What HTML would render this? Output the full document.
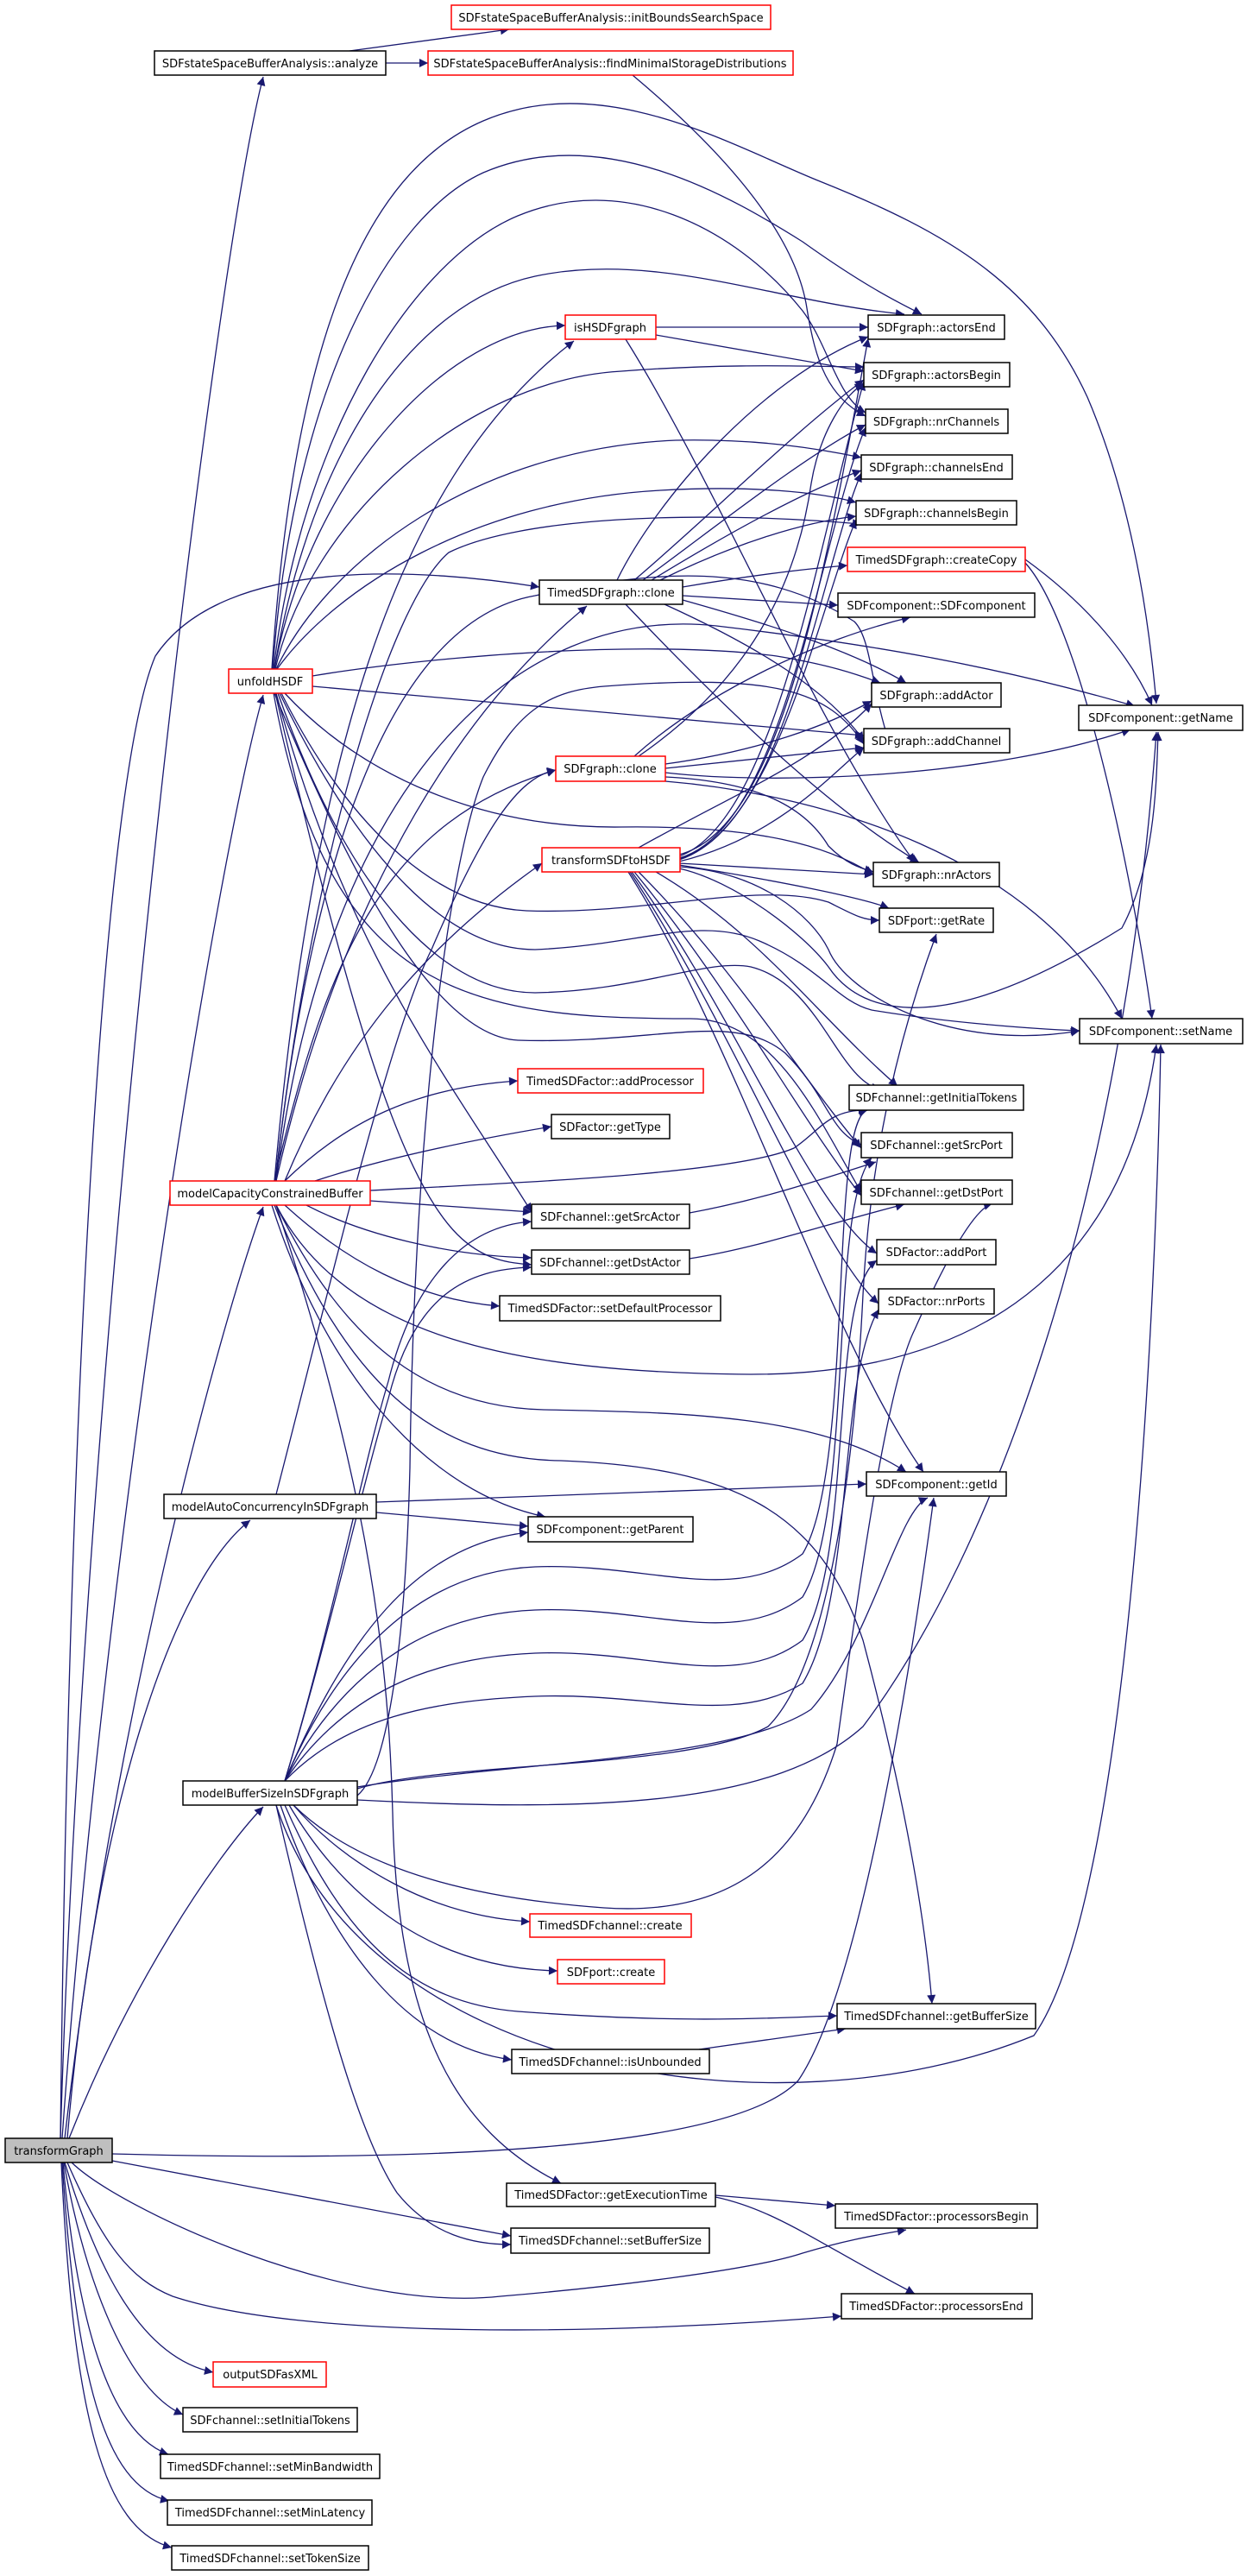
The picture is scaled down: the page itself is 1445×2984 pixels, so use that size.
<!DOCTYPE html>
<html><head><meta charset="utf-8"><style>
html,body{margin:0;padding:0;background:#fff;}
svg{display:block;}
text{font-family:"DejaVu Sans","Liberation Sans",sans-serif;font-size:13px;fill:#000;}
.e{fill:none;stroke:#191970;stroke-width:1.3;marker-end:url(#a);}
.n{fill:#fff;stroke:#000;stroke-width:1.5;}
.r{fill:#fff;stroke:#ff0000;stroke-width:1.5;}
</style></head><body>
<svg width="1445" height="2984" viewBox="0 0 1445 2984" xmlns="http://www.w3.org/2000/svg">
<defs><marker id="a" viewBox="0 0 10 10" refX="10" refY="5" markerWidth="13" markerHeight="10" markerUnits="userSpaceOnUse" orient="auto"><path d="M0,0 L10,5 L0,10 z" fill="#191970"/></marker></defs>
<g>
<!-- analyze -->
<path class="e" d="M405,59 L590,34"/>
<path class="e" d="M447,73 L496,73"/>
<path class="e" d="M733,87 C820,160 920,260 935,357 C945,420 960,460 1003,482"/>
<!-- transformGraph -->
<path class="e" d="M70,2477 C100,1500 250,300 305,89"/>
<path class="e" d="M72,2477 C120,1800 250,1000 305,805"/>
<path class="e" d="M70,2477 C80,1600 120,900 180,760 C260,640 500,660 625,680"/>
<path class="e" d="M75,2477 C130,2000 250,1550 305,1398"/>
<path class="e" d="M78,2477 C110,2100 200,1830 290,1761"/>
<path class="e" d="M80,2477 C150,2300 250,2150 305,2093"/>
<path class="e" d="M130,2495 C500,2505 850,2490 925,2410 C1000,2300 1060,1900 1082,1735"/>
<path class="e" d="M130,2503 L592,2590"/>
<path class="e" d="M83,2505 C140,2560 400,2680 580,2660 C700,2650 870,2630 930,2610 C980,2595 1010,2590 1050,2583"/>
<path class="e" d="M78,2505 C120,2600 150,2640 200,2660 C350,2710 700,2705 975,2683"/>
<path class="e" d="M75,2505 C110,2620 160,2730 247,2748"/>
<path class="e" d="M74,2505 C100,2650 150,2770 212,2797"/>
<path class="e" d="M73,2505 C90,2700 130,2820 195,2843"/>
<path class="e" d="M72,2505 C88,2750 120,2880 196,2897"/>
<path class="e" d="M71,2505 C85,2800 120,2930 199,2951"/>
<!-- unfoldHSDF -->
<path class="e" d="M315,775 C340,400 420,200 560,140 C700,80 850,170 950,210 C1100,270 1200,330 1260,460 C1320,600 1335,760 1340,815"/>
<path class="e" d="M316,775 C340,450 450,250 560,200 C700,140 850,230 930,280 C1000,330 1040,350 1068,364"/>
<path class="e" d="M317,775 C350,500 480,300 600,250 C720,200 850,260 930,360 C960,400 970,460 1003,478"/>
<path class="e" d="M318,775 C360,520 480,350 620,320 C760,290 900,350 1048,364"/>
<path class="e" d="M318,775 C360,550 520,380 655,377"/>
<path class="e" d="M319,775 C360,600 540,440 720,430 C850,420 950,425 1001,425"/>
<path class="e" d="M320,775 C380,650 550,520 783,510 C880,508 950,520 998,530"/>
<path class="e" d="M321,775 C390,680 550,580 765,568 C870,562 950,570 992,582"/>
<path class="e" d="M362,783 C500,760 750,740 900,760 C960,770 990,780 1020,791"/>
<path class="e" d="M362,795 L1001,852"/>
<path class="e" d="M330,803 C420,900 560,960 720,958 C880,956 960,980 1012,1013"/>
<path class="e" d="M326,803 C400,950 500,1050 610,1055 C750,1060 880,1020 960,1045 C990,1060 1000,1066 1019,1066"/>
<path class="e" d="M324,803 C420,1000 520,1100 620,1100 C740,1095 810,1060 880,1090 C950,1120 970,1160 1010,1170 C1100,1185 1200,1192 1251,1194"/>
<path class="e" d="M322,803 C410,1050 520,1150 620,1150 C740,1148 820,1110 870,1120 C950,1140 970,1250 1020,1262"/>
<path class="e" d="M320,803 C400,1100 520,1250 616,1404"/>
<path class="e" d="M319,803 C400,1150 460,1360 530,1430 C560,1460 590,1463 616,1465"/>
<path class="e" d="M318,803 C400,1000 500,1200 600,1205 C760,1210 850,1170 910,1220 C960,1270 960,1310 998,1326"/>
<path class="e" d="M317,803 C380,1150 540,1180 800,1180 C900,1180 950,1300 998,1381"/>
<!-- isHSDF -->
<path class="e" d="M760,379 L1006,379"/>
<path class="e" d="M760,388 L1001,430"/>
<path class="e" d="M725,393 C830,560 950,850 1060,999"/>
<!-- TimedSDFgraph::clone -->
<path class="e" d="M715,672 C760,580 880,440 1006,390"/>
<path class="e" d="M735,672 C820,600 920,500 1001,440"/>
<path class="e" d="M745,672 C830,610 930,530 1003,492"/>
<path class="e" d="M755,672 C840,620 930,570 998,545"/>
<path class="e" d="M765,672 C850,630 930,605 992,598"/>
<path class="e" d="M791,680 C850,670 920,660 982,655"/>
<path class="e" d="M791,690 L971,701"/>
<path class="e" d="M791,695 C880,720 980,750 1050,791"/>
<path class="e" d="M770,700 C880,750 960,800 1001,858"/>
<path class="e" d="M725,700 C820,800 950,930 1065,999"/>
<!-- SDFgraph::clone -->
<path class="e" d="M735,876 C820,800 950,740 1055,715"/>
<path class="e" d="M740,876 C850,800 920,700 940,560 C950,500 980,455 1001,445"/>
<path class="e" d="M771,885 C880,870 960,840 1010,812"/>
<path class="e" d="M771,890 L1001,866"/>
<path class="e" d="M771,895 C900,910 1150,900 1310,845"/>
<path class="e" d="M771,900 C870,905 930,930 960,980 C980,1000 995,1005 1012,1010"/>
<path class="e" d="M771,905 C950,920 1200,990 1300,1180"/>
<!-- transformSDFtoHSDF -->
<path class="e" d="M787,990 C900,960 950,700 1006,392"/>
<path class="e" d="M787,992 C900,950 950,620 1001,442"/>
<path class="e" d="M787,994 C910,960 950,620 1003,495"/>
<path class="e" d="M787,995 C910,960 950,660 998,548"/>
<path class="e" d="M787,996 C900,960 950,700 992,602"/>
<path class="e" d="M740,982 C850,920 950,880 1010,815"/>
<path class="e" d="M787,998 C900,970 960,900 1001,866"/>
<path class="e" d="M787,1000 L1012,1013"/>
<path class="e" d="M787,1002 C900,1020 1000,1040 1030,1052"/>
<path class="e" d="M787,1004 C880,1010 940,1060 960,1100 C980,1150 1100,1220 1251,1194"/>
<path class="e" d="M787,1006 C850,1020 930,1080 960,1120 C1000,1180 1100,1200 1300,1075 C1340,1000 1340,900 1342,848"/>
<path class="e" d="M760,1010 C880,1080 950,1180 1040,1258"/>
<path class="e" d="M740,1010 C850,1120 930,1250 998,1330"/>
<path class="e" d="M735,1010 C850,1150 930,1300 998,1385"/>
<path class="e" d="M732,1010 C850,1170 940,1400 1016,1452"/>
<path class="e" d="M730,1010 C850,1190 950,1450 1018,1510"/>
<path class="e" d="M728,1010 C850,1200 960,1550 1070,1705"/>
<!-- modelCapacityConstrainedBuffer -->
<path class="e" d="M330,1368 C400,1300 480,1260 600,1252"/>
<path class="e" d="M365,1368 C450,1340 550,1320 639,1305"/>
<path class="e" d="M429,1379 C600,1370 850,1360 920,1330 C950,1310 960,1285 1005,1286"/>
<path class="e" d="M429,1391 L616,1404"/>
<path class="e" d="M355,1396 C420,1430 520,1455 616,1457"/>
<path class="e" d="M330,1396 C400,1460 480,1505 579,1513"/>
<path class="e" d="M320,1396 C400,1550 600,1590 870,1592 C1100,1592 1300,1500 1340,1210"/>
<path class="e" d="M320,1396 C400,1560 500,1630 630,1633 C800,1636 950,1640 1050,1705"/>
<path class="e" d="M318,1396 C400,1600 500,1690 650,1692 C850,1700 950,1750 1000,1900 C1040,2050 1070,2200 1080,2321"/>
<path class="e" d="M315,1396 C380,1600 500,1730 632,1757"/>
<path class="e" d="M320,1396 C420,1700 450,1900 455,2100 C460,2350 530,2470 650,2529"/>
<path class="e" d="M330,1368 C400,1200 500,1090 628,1000"/>
<path class="e" d="M320,1368 C380,1100 500,850 680,702"/>
<path class="e" d="M318,1368 C380,1100 450,950 644,892"/>
<path class="e" d="M318,1368 C360,900 450,560 665,395"/>
<path class="e" d="M320,1368 C380,900 600,700 830,725 C1000,745 1150,770 1315,818"/>
<path class="e" d="M319,1368 C360,1000 450,720 620,690 C760,660 880,650 990,720 C1010,740 1010,800 1030,858"/>
<path class="e" d="M319,1368 C360,1000 450,700 520,640 C600,600 800,590 998,607"/>
<!-- modelAutoConcurrency -->
<path class="e" d="M320,1731 C380,1500 450,1200 500,1100 C560,960 600,900 644,892"/>
<path class="e" d="M436,1740 L1004,1719"/>
<path class="e" d="M436,1752 L612,1768"/>
<!-- modelBufferSizeInSDFgraph -->
<path class="e" d="M340,2091 C400,2160 500,2220 614,2226"/>
<path class="e" d="M335,2091 C400,2200 500,2280 646,2283"/>
<path class="e" d="M330,2091 C400,2250 480,2320 600,2330 C800,2345 900,2337 970,2335"/>
<path class="e" d="M325,2091 C380,2250 470,2370 593,2386"/>
<path class="e" d="M320,2091 C380,2350 420,2480 460,2540 C500,2590 550,2600 592,2600"/>
<path class="e" d="M320,2091 C420,2400 900,2480 1198,2358 C1310,2200 1340,1500 1345,1210"/>
<path class="e" d="M340,2091 C420,2170 560,2200 700,2210 C850,2220 930,2150 970,2020 C1000,1800 1030,1600 1060,1540 C1100,1450 1130,1400 1150,1394"/>
<path class="e" d="M330,2063 C400,1900 500,1820 620,1815 C750,1810 850,1860 930,1800 C990,1700 960,1300 1005,1286"/>
<path class="e" d="M330,2063 C400,1930 500,1870 620,1865 C750,1860 850,1910 930,1850 C990,1750 960,1400 1010,1341"/>
<path class="e" d="M330,2063 C400,1960 500,1920 620,1915 C750,1910 850,1960 930,1900 C990,1800 960,1500 1016,1460"/>
<path class="e" d="M330,2063 C400,1990 500,1970 620,1965 C750,1960 850,2000 930,1950 C990,1850 970,1600 1018,1517"/>
<path class="e" d="M330,2063 C400,1900 480,1790 612,1775"/>
<path class="e" d="M330,2063 C380,1900 420,1700 450,1600 C480,1480 540,1420 616,1415"/>
<path class="e" d="M330,2063 C380,1900 420,1720 450,1620 C480,1500 540,1470 616,1468"/>
<path class="e" d="M414,2070 C600,2040 850,2040 940,1980 C1010,1900 1040,1750 1075,1735"/>
<path class="e" d="M414,2072 C520,2040 800,2050 890,2000 C960,1930 990,1700 1000,1500 C1010,1300 1060,1150 1085,1082"/>
<path class="e" d="M414,2085 C700,2100 900,2090 1000,2000 C1150,1800 1300,1400 1340,848"/>
<path class="e" d="M414,2080 C450,2050 470,1900 475,1700 C480,1300 520,1000 560,900 C600,820 640,800 700,795 C900,780 960,800 1001,862"/>
<!-- small edges -->
<path class="e" d="M1188,648 C1260,700 1310,760 1335,817"/>
<path class="e" d="M1188,652 C1250,720 1310,1000 1335,1180"/>
<path class="e" d="M799,1405 C880,1390 940,1370 1015,1346"/>
<path class="e" d="M799,1458 C880,1445 950,1420 1048,1395"/>
<path class="e" d="M810,2374 L980,2350"/>
<path class="e" d="M829,2543 L968,2555"/>
<path class="e" d="M829,2545 C900,2560 950,2600 1060,2657"/>
</g>
<g>
<rect class="r" x="523" y="6" width="370" height="28"/><text x="708" y="25" text-anchor="middle">SDFstateSpaceBufferAnalysis::initBoundsSearchSpace</text>
<rect class="n" x="179" y="59" width="268" height="28"/><text x="313" y="78" text-anchor="middle">SDFstateSpaceBufferAnalysis::analyze</text>
<rect class="r" x="496" y="59" width="423" height="28"/><text x="707" y="78" text-anchor="middle">SDFstateSpaceBufferAnalysis::findMinimalStorageDistributions</text>
<rect class="r" x="655" y="365" width="105" height="28"/><text x="707" y="384" text-anchor="middle">isHSDFgraph</text>
<rect class="n" x="1006" y="365" width="158" height="28"/><text x="1085" y="384" text-anchor="middle">SDFgraph::actorsEnd</text>
<rect class="n" x="1001" y="420" width="169" height="28"/><text x="1085" y="439" text-anchor="middle">SDFgraph::actorsBegin</text>
<rect class="n" x="1003" y="474" width="165" height="28"/><text x="1085" y="493" text-anchor="middle">SDFgraph::nrChannels</text>
<rect class="n" x="998" y="527" width="175" height="28"/><text x="1085" y="546" text-anchor="middle">SDFgraph::channelsEnd</text>
<rect class="n" x="992" y="580" width="186" height="28"/><text x="1085" y="599" text-anchor="middle">SDFgraph::channelsBegin</text>
<rect class="r" x="982" y="634" width="206" height="28"/><text x="1085" y="653" text-anchor="middle">TimedSDFgraph::createCopy</text>
<rect class="n" x="625" y="672" width="166" height="28"/><text x="708" y="691" text-anchor="middle">TimedSDFgraph::clone</text>
<rect class="n" x="971" y="687" width="228" height="28"/><text x="1085" y="706" text-anchor="middle">SDFcomponent::SDFcomponent</text>
<rect class="r" x="265" y="775" width="97" height="28"/><text x="313" y="794" text-anchor="middle">unfoldHSDF</text>
<rect class="n" x="1010" y="791" width="150" height="28"/><text x="1085" y="810" text-anchor="middle">SDFgraph::addActor</text>
<rect class="n" x="1250" y="817" width="190" height="29"/><text x="1345" y="836" text-anchor="middle">SDFcomponent::getName</text>
<rect class="n" x="1001" y="844" width="169" height="28"/><text x="1085" y="863" text-anchor="middle">SDFgraph::addChannel</text>
<rect class="r" x="644" y="876" width="127" height="29"/><text x="707" y="895" text-anchor="middle">SDFgraph::clone</text>
<rect class="r" x="628" y="982" width="160" height="28"/><text x="708" y="1001" text-anchor="middle">transformSDFtoHSDF</text>
<rect class="n" x="1012" y="999" width="146" height="28"/><text x="1085" y="1018" text-anchor="middle">SDFgraph::nrActors</text>
<rect class="n" x="1019" y="1052" width="132" height="28"/><text x="1085" y="1071" text-anchor="middle">SDFport::getRate</text>
<rect class="n" x="1251" y="1180" width="189" height="29"/><text x="1345" y="1199" text-anchor="middle">SDFcomponent::setName</text>
<rect class="r" x="600" y="1238" width="215" height="28"/><text x="707" y="1257" text-anchor="middle">TimedSDFactor::addProcessor</text>
<rect class="n" x="984" y="1257" width="202" height="29"/><text x="1085" y="1276" text-anchor="middle">SDFchannel::getInitialTokens</text>
<rect class="n" x="639" y="1291" width="137" height="28"/><text x="707" y="1310" text-anchor="middle">SDFactor::getType</text>
<rect class="n" x="998" y="1312" width="175" height="29"/><text x="1085" y="1331" text-anchor="middle">SDFchannel::getSrcPort</text>
<rect class="r" x="197" y="1368" width="232" height="28"/><text x="313" y="1387" text-anchor="middle">modelCapacityConstrainedBuffer</text>
<rect class="n" x="998" y="1367" width="175" height="28"/><text x="1085" y="1386" text-anchor="middle">SDFchannel::getDstPort</text>
<rect class="n" x="616" y="1395" width="183" height="28"/><text x="707" y="1414" text-anchor="middle">SDFchannel::getSrcActor</text>
<rect class="n" x="1016" y="1436" width="138" height="29"/><text x="1085" y="1455" text-anchor="middle">SDFactor::addPort</text>
<rect class="n" x="616" y="1448" width="183" height="28"/><text x="707" y="1467" text-anchor="middle">SDFchannel::getDstActor</text>
<rect class="n" x="1018" y="1493" width="134" height="29"/><text x="1085" y="1512" text-anchor="middle">SDFactor::nrPorts</text>
<rect class="n" x="579" y="1501" width="256" height="29"/><text x="707" y="1520" text-anchor="middle">TimedSDFactor::setDefaultProcessor</text>
<rect class="n" x="1004" y="1705" width="162" height="28"/><text x="1085" y="1724" text-anchor="middle">SDFcomponent::getId</text>
<rect class="n" x="190" y="1731" width="246" height="28"/><text x="313" y="1750" text-anchor="middle">modelAutoConcurrencyInSDFgraph</text>
<rect class="n" x="612" y="1757" width="191" height="29"/><text x="707" y="1776" text-anchor="middle">SDFcomponent::getParent</text>
<rect class="n" x="212" y="2063" width="202" height="28"/><text x="313" y="2082" text-anchor="middle">modelBufferSizeInSDFgraph</text>
<rect class="r" x="614" y="2217" width="187" height="27"/><text x="707" y="2235" text-anchor="middle">TimedSDFchannel::create</text>
<rect class="r" x="646" y="2270" width="124" height="28"/><text x="708" y="2289" text-anchor="middle">SDFport::create</text>
<rect class="n" x="970" y="2321" width="230" height="29"/><text x="1085" y="2340" text-anchor="middle">TimedSDFchannel::getBufferSize</text>
<rect class="n" x="593" y="2374" width="229" height="28"/><text x="707" y="2393" text-anchor="middle">TimedSDFchannel::isUnbounded</text>
<rect x="6" y="2477" width="124" height="28" fill="#bfbfbf" stroke="#000" stroke-width="1.5"/><text x="68" y="2496" text-anchor="middle">transformGraph</text>
<rect class="n" x="587" y="2529" width="242" height="27"/><text x="708" y="2547" text-anchor="middle">TimedSDFactor::getExecutionTime</text>
<rect class="n" x="968" y="2553" width="234" height="28"/><text x="1085" y="2572" text-anchor="middle">TimedSDFactor::processorsBegin</text>
<rect class="n" x="592" y="2581" width="230" height="29"/><text x="707" y="2600" text-anchor="middle">TimedSDFchannel::setBufferSize</text>
<rect class="n" x="975" y="2657" width="221" height="29"/><text x="1085" y="2676" text-anchor="middle">TimedSDFactor::processorsEnd</text>
<rect class="r" x="247" y="2736" width="131" height="29"/><text x="313" y="2755" text-anchor="middle">outputSDFasXML</text>
<rect class="n" x="212" y="2789" width="202" height="28"/><text x="313" y="2808" text-anchor="middle">SDFchannel::setInitialTokens</text>
<rect class="n" x="186" y="2843" width="254" height="28"/><text x="313" y="2862" text-anchor="middle">TimedSDFchannel::setMinBandwidth</text>
<rect class="n" x="194" y="2896" width="237" height="29"/><text x="313" y="2915" text-anchor="middle">TimedSDFchannel::setMinLatency</text>
<rect class="n" x="199" y="2949" width="228" height="28"/><text x="313" y="2968" text-anchor="middle">TimedSDFchannel::setTokenSize</text>
</g>
</svg>
</body></html>
